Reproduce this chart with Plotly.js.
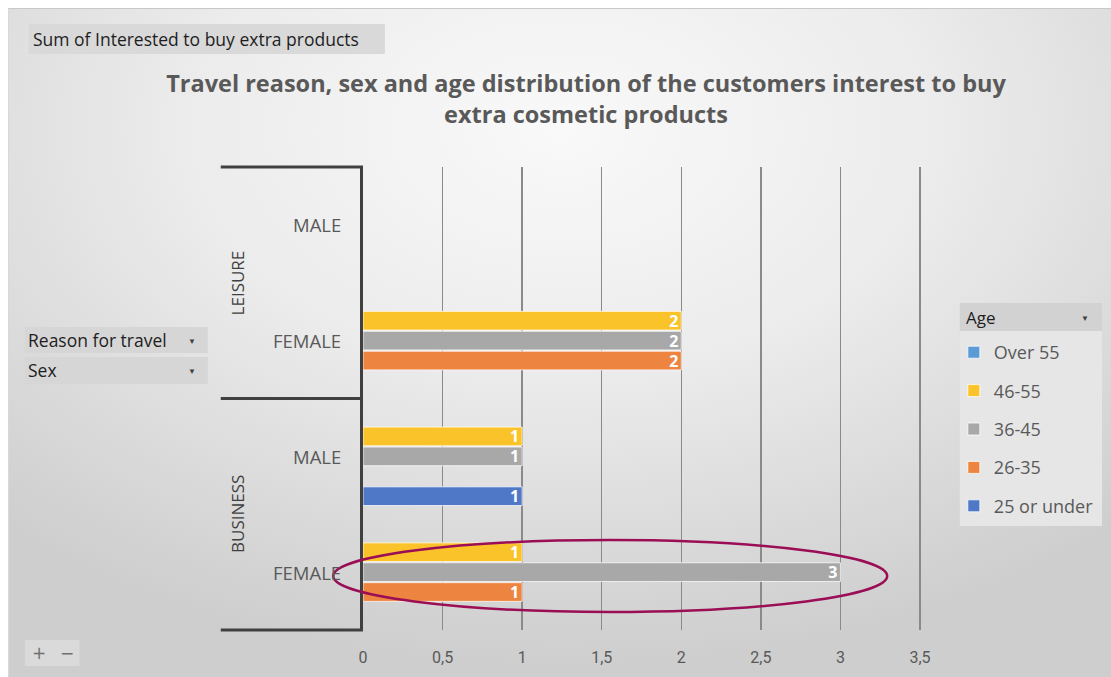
<!DOCTYPE html>
<html>
<head>
<meta charset="utf-8">
<script src="https://cdn.plot.ly/plotly-3.0.1.min.js"></script>
<style>
  html, body { margin: 0; padding: 0; background: #ffffff; }
  #bg { position: absolute; left: 8px; top: 8px; width: 1103px; height: 669px;
        border-top: 1px solid #c8c8c8; border-left: 1px solid #d8d8d8;
        background: radial-gradient(ellipse 75% 80% at 50% 18%, #f9f9f9 0%, #ececec 45%, #d6d6d6 85%, #cecece 100%); }
  #chart { position: absolute; left: 0; top: 0; width: 1111px; height: 677px; }
</style>
</head>
<body>
<div id="bg"></div>
<div id="chart"></div>
<script>
// ---- data ----
const reasons = ["BUSINESS", "BUSINESS", "LEISURE", "LEISURE"];
const sexes   = ["FEMALE", "MALE", "FEMALE", "MALE"];
const ages    = ["25 or under", "26-35", "36-45", "46-55", "Over 55"];
const v25orUnder = [null, 1, null, null];
const v26to35    = [1, null, 2, null];
const v36to45    = [3, 1, 2, null];
const v46to55    = [1, 1, 2, null];
const vOver55    = [null, null, null, null];
const xTickVals  = [0, 0.5, 1, 1.5, 2, 2.5, 3, 3.5];
const reasonGroups = ["BUSINESS", "LEISURE"];

const seriesValues = [v25orUnder, v26to35, v36to45, v46to55, vOver55];
const colors = ["#4f79c6", "#ed8540", "#a8a8a8", "#fbc32a", "#5b9bd5"];

const slots = reasons.map((r, i) => r + " · " + sexes[i]);

const traces = ages.map((age, k) => ({
  type: "bar",
  orientation: "h",
  name: age,
  legendgroup: age,
  legendrank: ages.length - k,
  y: slots,
  x: seriesValues[k],
  text: seriesValues[k].map(v => v == null ? "" : String(v)),
  textposition: "inside",
  insidetextanchor: "end",
  textangle: 0,
  constraintext: "none",
  textfont: { family: "Open Sans, sans-serif", size: 16, color: "#ffffff", weight: "bold" },
  marker: { color: colors[k], line: { color: "rgba(255,255,255,0.75)", width: 1 } },
  hoverinfo: "skip"
}));

// plot-area pixel helpers -> paper coords
const L = 363, R = 927, T = 167, B = 630;
const px = x => (x - L) / (R - L);
const py = y => (B - y) / (B - T);

const annotations = [];
// sex labels
slots.forEach((s, i) => {
  annotations.push({
    xref: "paper", yref: "y", x: px(343), y: s, xanchor: "right", yanchor: "middle",
    text: sexes[i], showarrow: false,
    font: { family: "Open Sans, sans-serif", size: 18.5, color: "#595959" }
  });
});
// reason labels (rotated), centred on their pair of slots
reasonGroups.forEach(g => {
  const idx = reasons.map((r, i) => r === g ? i : -1).filter(i => i >= 0);
  const mid = (idx[0] + idx[idx.length - 1]) / 2;
  annotations.push({
    xref: "paper", yref: "y", x: px(237), y: mid, xanchor: "center", yanchor: "middle",
    text: g, textangle: -90, showarrow: false,
    font: { family: "Open Sans, sans-serif", size: 17, color: "#404040" }
  });
});
// pivot buttons
annotations.push(
  { xref: "paper", yref: "paper", x: px(29), y: py(39), xanchor: "left", yanchor: "middle", showarrow: false,
    text: "Sum of Interested to buy extra products", font: { family: "Open Sans, sans-serif", size: 17.5, color: "#1e1e1e" } },
  { xref: "paper", yref: "paper", x: px(24), y: py(340), xanchor: "left", yanchor: "middle", showarrow: false,
    text: "Reason for travel", font: { family: "Open Sans, sans-serif", size: 17.5, color: "#1e1e1e" } },
  { xref: "paper", yref: "paper", x: px(191), y: py(340), xanchor: "center", yanchor: "middle", showarrow: false,
    text: "▼", font: { size: 8, color: "#404040" } },
  { xref: "paper", yref: "paper", x: px(24), y: py(370), xanchor: "left", yanchor: "middle", showarrow: false,
    text: "Sex", font: { family: "Open Sans, sans-serif", size: 17.5, color: "#1e1e1e" } },
  { xref: "paper", yref: "paper", x: px(191), y: py(370), xanchor: "center", yanchor: "middle", showarrow: false,
    text: "▼", font: { size: 8, color: "#404040" } },
  { xref: "paper", yref: "paper", x: px(967), y: py(317), xanchor: "left", yanchor: "middle", showarrow: false,
    text: "Age", font: { family: "Open Sans, sans-serif", size: 17, color: "#1e1e1e" } },
  { xref: "paper", yref: "paper", x: px(1089), y: py(317), xanchor: "center", yanchor: "middle", showarrow: false,
    text: "▼", font: { size: 8, color: "#404040" } },
  { xref: "paper", yref: "paper", x: px(37), y: py(653), xanchor: "center", yanchor: "middle", showarrow: false,
    text: "+", font: { family: "DejaVu Sans, sans-serif", size: 17, color: "#707070" } },
  { xref: "paper", yref: "paper", x: px(65), y: py(653), xanchor: "center", yanchor: "middle", showarrow: false,
    text: "−", font: { family: "DejaVu Sans, sans-serif", size: 17, color: "#707070" } }
);

const shapes = [
  // bracket lines on the left
  { type: "line", xref: "paper", yref: "paper", x0: px(220), x1: 0, y0: 1, y1: 1, line: { color: "#404040", width: 3 } },
  { type: "line", xref: "paper", yref: "paper", x0: px(220), x1: 0, y0: 0.5, y1: 0.5, line: { color: "#404040", width: 3 } },
  { type: "line", xref: "paper", yref: "paper", x0: px(220), x1: 0, y0: 0, y1: 0, line: { color: "#404040", width: 3 } },
  // buttons
  { type: "rect", xref: "paper", yref: "paper", x0: px(27), x1: px(385), y0: py(54), y1: py(24),
    fillcolor: "#d9d9d9", line: { width: 0 }, layer: "below" },
  { type: "rect", xref: "paper", yref: "paper", x0: px(23), x1: px(207), y0: py(353), y1: py(327),
    fillcolor: "#d6d6d6", line: { width: 0 }, layer: "below" },
  { type: "rect", xref: "paper", yref: "paper", x0: px(23), x1: px(207), y0: py(384), y1: py(357),
    fillcolor: "#d6d6d6", line: { width: 0 }, layer: "below" },
  { type: "rect", xref: "paper", yref: "paper", x0: px(23), x1: px(78), y0: py(666), y1: py(640),
    fillcolor: "#dadada", line: { width: 0 }, layer: "below" },
  // legend panel
  { type: "rect", xref: "paper", yref: "paper", x0: px(963), x1: px(1106), y0: py(526), y1: py(303),
    fillcolor: "#e6e6e6", line: { width: 0 }, layer: "below" },
  { type: "rect", xref: "paper", yref: "paper", x0: px(963), x1: px(1106), y0: py(331), y1: py(303),
    fillcolor: "#d2d2d2", line: { width: 0 }, layer: "below" },
  // highlight ellipse
  { type: "circle", xref: "paper", yref: "paper", x0: px(333), x1: px(890), y0: py(612), y1: py(540),
    line: { color: "#9b0e55", width: 2.5 }, fillcolor: "rgba(0,0,0,0)" }
];

const layout = {
  width: 1111, height: 677,
  paper_bgcolor: "rgba(0,0,0,0)",
  plot_bgcolor: "rgba(0,0,0,0)",
  margin: { l: L, r: 1111 - R, t: T, b: 677 - B, pad: 0 },
  separators: ", ",
  title: {
    text: "Travel reason, sex and age distribution of the customers interest to buy<br>extra cosmetic products",
    x: 586 / 1111, xref: "container", xanchor: "center",
    y: 1 - 92 / 677, yref: "container", yanchor: "middle",
    font: { family: "Open Sans, sans-serif", size: 23.5, color: "#595959", weight: "bold" }
  },
  barmode: "group",
  bargap: 0.14,
  bargroupgap: 0.06,
  xaxis: {
    range: [0, 3.525],
    tickvals: xTickVals,
    ticks: "",
    showgrid: true, gridcolor: "#8a8a8a", gridwidth: 1.5,
    zeroline: false, showline: false,
    ticklabelstandoff: 16,
    tickfont: { family: "Liberation Sans Narrow, Roboto, sans-serif", size: 16, color: "#595959" },
    fixedrange: true
  },
  yaxis: {
    type: "category",
    categoryorder: "array", categoryarray: slots,
    showticklabels: false, ticks: "",
    showgrid: false, zeroline: false,
    showline: true, linecolor: "#404040", linewidth: 3,
    fixedrange: true
  },
  showlegend: true,
  legend: {
    x: px(957), xanchor: "left",
    y: py(334), yanchor: "top",
    traceorder: "grouped",
    tracegroupgap: 12,
    bgcolor: "rgba(0,0,0,0)",
    font: { family: "Open Sans, sans-serif", size: 18, color: "#595959" },
    itemclick: false, itemdoubleclick: false
  },
  hovermode: false,
  annotations: annotations,
  shapes: shapes
};

Plotly.newPlot("chart", traces, layout, { displayModeBar: false, staticPlot: true });
</script>
</body>
</html>
